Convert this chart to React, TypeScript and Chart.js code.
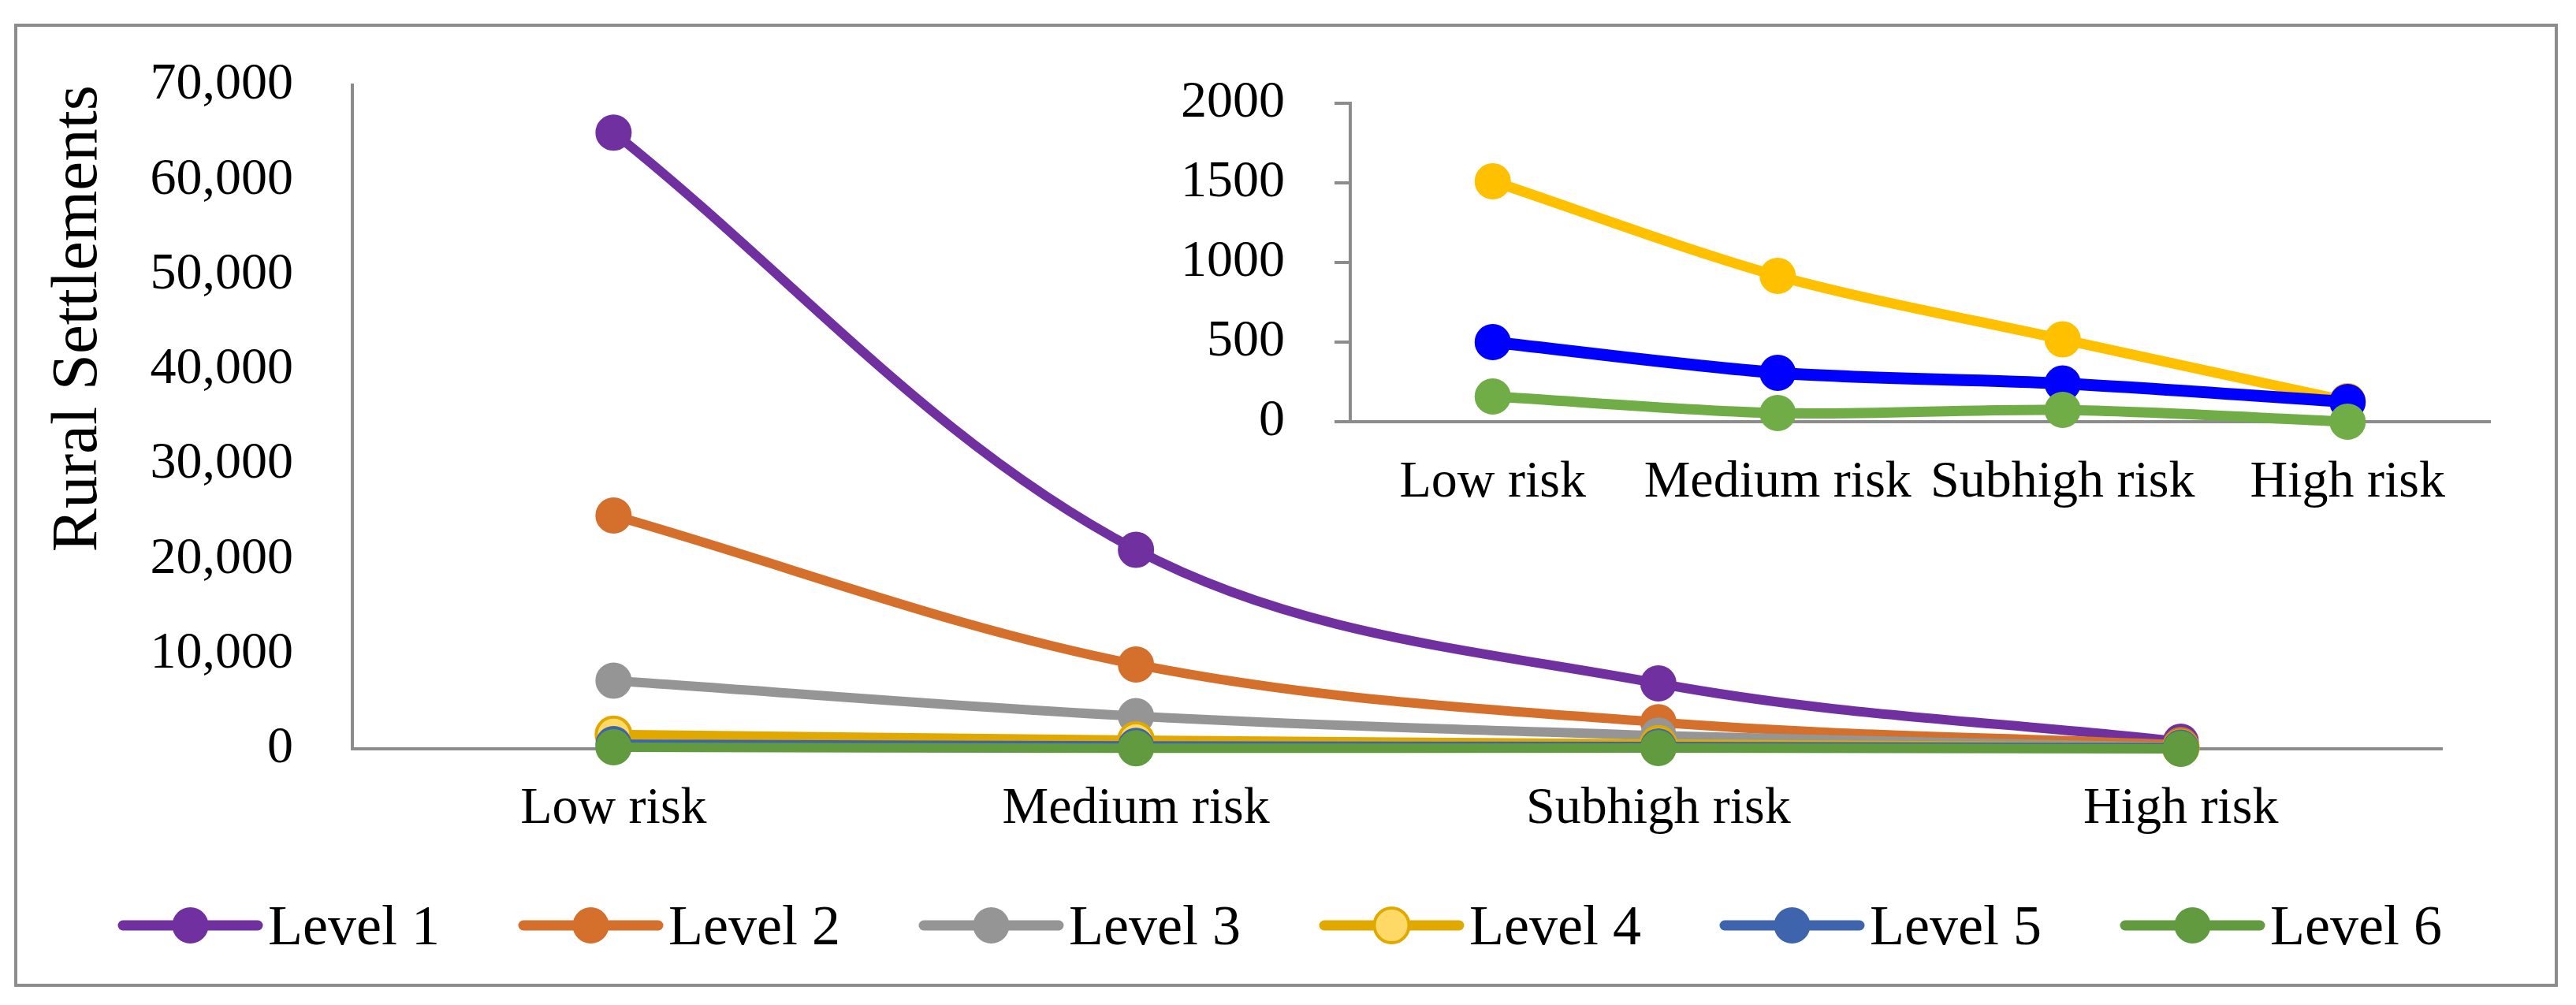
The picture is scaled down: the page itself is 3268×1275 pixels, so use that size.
import React, { useEffect, useRef } from "react";
import { Chart, registerables } from "chart.js";

Chart.register(...registerables);

// ---------- data ----------
const categories = ["Low risk", "Medium risk", "Subhigh risk", "High risk"];
const seriesNames = ["Level 1", "Level 2", "Level 3", "Level 4", "Level 5", "Level 6"];
const level1 = [65000, 21000, 6900, 750];
const level2 = [24600, 8900, 2800, 400];
const level3 = [7200, 3450, 1400, 170];
const level4 = [1510, 916, 517, 130];
const level5 = [500, 307, 240, 124];
const level6 = [158, 54, 74, 0];
const mainYMax = 70000;
const mainYStep = 10000;
const insetYMax = 2000;
const insetYStep = 500;
const yTitle = "Rural Settlements";

// ---------- styles ----------
const mainLineColors = ["#7030A0", "#D46F2C", "#959595", "#E1A900", "#3E64AD", "#619A3F"];
const mainPointFill = ["#7030A0", "#D46F2C", "#959595", "#FFD966", "#3E64AD", "#619A3F"];
const insetColors = ["#FFC000", "#0000FF", "#70AD47"];
const FONT = '"Liberation Serif", "Times New Roman", serif';
const AXIS_GRAY = "#8C8C8C";

const legendPlugin = {
  id: "lineMarkerLegend",
  afterDraw(chart: any) {
    const ctx = chart.ctx;
    chart.data.datasets.forEach((ds: any, i: number) => {
      const x0 = 156 + 508 * i;
      const y = 1174;
      ctx.save();
      ctx.strokeStyle = ds.borderColor;
      ctx.lineWidth = 13;
      ctx.lineCap = "round";
      ctx.beginPath();
      ctx.moveTo(x0, y);
      ctx.lineTo(x0 + 171, y);
      ctx.stroke();
      ctx.beginPath();
      ctx.arc(x0 + 85.5, y, 22, 0, Math.PI * 2);
      ctx.fillStyle = ds.pointBackgroundColor;
      ctx.fill();
      ctx.lineWidth = ds.pointBorderWidth;
      ctx.strokeStyle = ds.pointBorderColor;
      ctx.stroke();
      ctx.fillStyle = "#000";
      ctx.font = `72px ${FONT}`;
      ctx.textAlign = "left";
      ctx.textBaseline = "alphabetic";
      ctx.fillText(ds.label, x0 + 184, y + 24);
      ctx.restore();
    });
  },
};

function MainChart() {
  const ref = useRef<HTMLCanvasElement>(null);
  useEffect(() => {
    const series = [level1, level2, level3, level4, level5, level6];
    const chart = new Chart(ref.current!, {
      type: "line",
      data: {
        labels: categories,
        datasets: series.map((d, i) => ({
          label: seriesNames[i],
          data: d,
          borderColor: mainLineColors[i],
          backgroundColor: mainPointFill[i],
          pointBackgroundColor: mainPointFill[i],
          pointBorderColor: mainLineColors[i],
          pointBorderWidth: i === 3 ? 4 : 2,
          pointRadius: 22,
          borderWidth: 12,
          tension: 0.35,
          clip: false as any,
          order: series.length - i,
        })),
      },
      options: {
        responsive: false,
        maintainAspectRatio: false,
        devicePixelRatio: 1,
        animation: false,
        events: [],
        layout: { padding: { left: 0, top: 108, right: 170, bottom: 0 } },
        plugins: { legend: { display: false }, tooltip: { enabled: false } },
        scales: {
          x: {
            type: "category",
            offset: true,
            grid: { display: false, drawTicks: false, tickLength: 0 },
            border: { display: true, color: AXIS_GRAY, width: 4 },
            ticks: { color: "#000", font: { family: FONT, size: 66 }, padding: 37, maxRotation: 0, autoSkip: false },
            afterFit: (s: any) => { s.height = 325; },
          },
          y: {
            min: 0,
            max: mainYMax,
            // invisible tick marks give the gap between labels and axis
            grid: { display: true, drawOnChartArea: false, drawTicks: true, tickLength: 75, color: "rgba(0,0,0,0)" },
            border: { display: true, color: AXIS_GRAY, width: 4 },
            ticks: {
              stepSize: mainYStep,
              color: "#000",
              font: { family: FONT, size: 66 },
              padding: 0,
              callback: (v: any) => Number(v).toLocaleString("en-US"),
            },
            title: {
              display: true,
              text: yTitle,
              color: "#000",
              align: "end",
              font: { family: FONT, size: 83 },
              padding: { top: 50, bottom: 0 },
            },
            afterFit: (s: any) => { s.width = 447; },
          },
        },
      },
      plugins: [legendPlugin],
    });
    return () => chart.destroy();
  }, []);
  return (
    <canvas
      ref={ref}
      width={3268}
      height={1275}
      style={{ position: "absolute", left: 0, top: 0, width: 3268, height: 1275 }}
    />
  );
}

function InsetChart() {
  const ref = useRef<HTMLCanvasElement>(null);
  useEffect(() => {
    const series = [level4, level5, level6];
    const names = [seriesNames[3], seriesNames[4], seriesNames[5]];
    const chart = new Chart(ref.current!, {
      type: "line",
      data: {
        labels: categories,
        datasets: series.map((d, i) => ({
          label: names[i],
          data: d,
          borderColor: insetColors[i],
          backgroundColor: insetColors[i],
          pointBackgroundColor: insetColors[i],
          pointBorderColor: insetColors[i],
          pointBorderWidth: 2,
          pointRadius: 22,
          borderWidth: i === 1 ? 15 : 13,
          tension: 0.3,
          clip: false as any,
          order: series.length - i,
        })),
      },
      options: {
        responsive: false,
        maintainAspectRatio: false,
        devicePixelRatio: 1,
        animation: false,
        events: [],
        layout: { padding: { left: 0, top: 111, right: 91, bottom: 0 } },
        plugins: { legend: { display: false }, tooltip: { enabled: false } },
        scales: {
          x: {
            type: "category",
            offset: true,
            grid: { display: false, drawTicks: false, tickLength: 0 },
            border: { display: true, color: AXIS_GRAY, width: 4 },
            ticks: { color: "#000", font: { family: FONT, size: 66 }, padding: 38, maxRotation: 0, autoSkip: false },
            afterFit: (s: any) => { s.height = 205; },
          },
          y: {
            min: 0,
            max: insetYMax,
            grid: { display: true, drawOnChartArea: false, drawTicks: true, tickLength: 20, color: AXIS_GRAY, lineWidth: 4 },
            border: { display: true, color: AXIS_GRAY, width: 4 },
            ticks: {
              stepSize: insetYStep,
              color: "#000",
              font: { family: FONT, size: 66 },
              padding: 63,
              callback: (v: any) => String(v),
            },
            afterFit: (s: any) => { s.width = 313; },
          },
        },
      },
    });
    return () => chart.destroy();
  }, []);
  return (
    <canvas
      ref={ref}
      width={1850}
      height={720}
      style={{ position: "absolute", left: 1400, top: 20, width: 1850, height: 720 }}
    />
  );
}

export default function App() {
  return (
    <div style={{ position: "absolute", left: 0, top: 0, width: 3268, height: 1275, background: "#fff", overflow: "hidden" }}>
      <div
        style={{
          position: "absolute",
          left: 18,
          top: 30,
          width: 3227,
          height: 1222,
          boxSizing: "border-box",
          border: `4px solid ${AXIS_GRAY}`,
        }}
      />
      <MainChart />
      <InsetChart />
    </div>
  );
}
